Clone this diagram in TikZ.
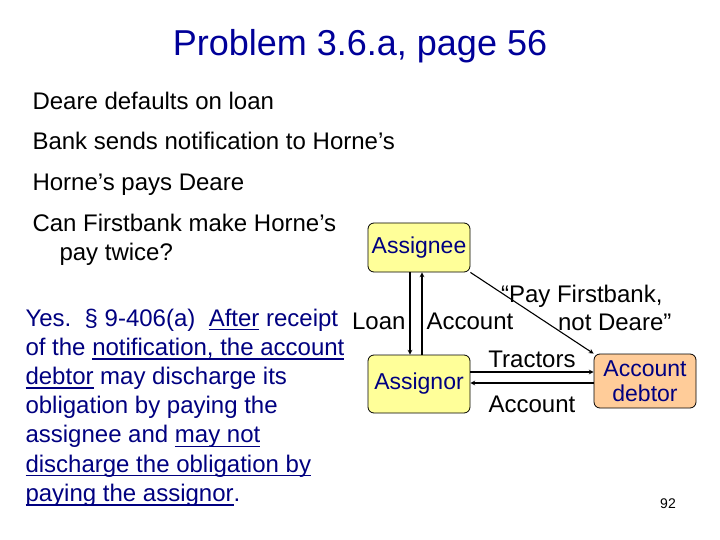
\documentclass[tikz,border=0pt]{standalone}
\usepackage{fontspec}
\setmainfont{Liberation Sans}
\usetikzlibrary{arrows, positioning}

\definecolor{titleblue}{RGB}{0,0,153}
\definecolor{textblue}{RGB}{0,0,128}
\definecolor{boxyellow}{RGB}{255,255,153}
\definecolor{boxorange}{RGB}{255,204,153}

% underline at a fixed depth, through the descenders
\newcommand{\undl}[1]{\setbox0\hbox{#1}\rlap{\vrule height -3pt depth 4.4pt width \wd0\relax}\box0\relax}

\begin{document}
\begin{tikzpicture}[> = stealth, % arrow head style
                x = 1pt, y = -1pt, % pixel like units, y runs down
                line width = 1.1pt % line style
            ]

            \tikzstyle{every node}=[inner sep = 0pt]
            \tikzstyle{party}=[draw = black, line width = 0.8pt, rounded corners = 6pt,
            fill = boxyellow, text = textblue, font = \fontsize{23}{25}\selectfont,
            align = center, minimum width = 102pt, inner sep = 2pt]
            \tikzstyle{lbl}=[font = \fontsize{24}{28}\selectfont, inner sep = 4pt]
            \tikzstyle{body}=[anchor = base west, font = \fontsize{24}{28}\selectfont]
            \tikzstyle{rule}=[anchor = base west, text = textblue,
            font = \fontsize{24}{28}\selectfont]

            \useasboundingbox (0,0) rectangle (720,540);
            \fill[white] (0,0) rectangle (720,540);

            % heading and facts
            \node (title) at (360,46) [font = \fontsize{36}{40}\selectfont,
            text = titleblue] {Problem 3.6.a, page 56};
            \node (fact1) [body] at (32,110) {Deare defaults on loan};
            \node (fact2) [body] at (32,150) {Bank sends notification to Horne’s};
            \node (fact3) [body] at (32,191) {Horne’s pays Deare};
            \node (fact4) [body] at (32,232) {Can Firstbank make Horne’s};
            \node (fact5) [body] at (59,260) {pay twice?};

            % answer
            \foreach \txt [count=\i] in {
                {Yes.\ \ § 9-406(a)\ \ \undl{After} receipt},
                {of the \undl{notification, the account}},
                {\undl{debtor} may discharge its},
                {obligation by paying the},
                {assignee and \undl{may not}},
                {\undl{discharge the obligation by}},
                {\undl{paying the assignor}.}}
                \node (yes\i) [rule] at (25,{296.8+29.2*\i}) {\txt};

            % parties
            \node (assignee) [party, minimum height = 49pt] at (419,247.5) {Assignee};
            \node (assignor) [party, minimum height = 58pt] at (419,384) {Assignor};
            \node (debtor) [party, fill = boxorange, minimum height = 54pt]
            at (645,381) {Account\\debtor};

            \path[->] ([xshift=-9pt]assignee.south) edge node[lbl, left, pos=0.6]
            {Loan} ([xshift=-9pt]assignor.north);
            \path[->] ([xshift=3pt]assignor.north) edge node[lbl, right, pos=0.4]
            {Account} ([xshift=3pt]assignee.south);

            \coordinate (tr) at ([yshift=12pt]assignor.east);
            \coordinate (ac) at ([yshift=1pt]assignor.east);
            \path[->] (tr) edge node[lbl, above] {Tractors} (tr -| debtor.west);
            \path[->] (ac -| debtor.west) edge node[lbl, below = 8pt] {Account} (ac);

            \path[->] (assignee.south east) edge (debtor.north west);
            \node (notice) [lbl, anchor = east, align = right] at (676,308)
            {“Pay Firstbank,\hspace*{9pt}\\not Deare”};

            \node (pagenum) at (668,504) [font = \fontsize{14}{16}\selectfont] {92};
        \end{tikzpicture}
\end{document}
